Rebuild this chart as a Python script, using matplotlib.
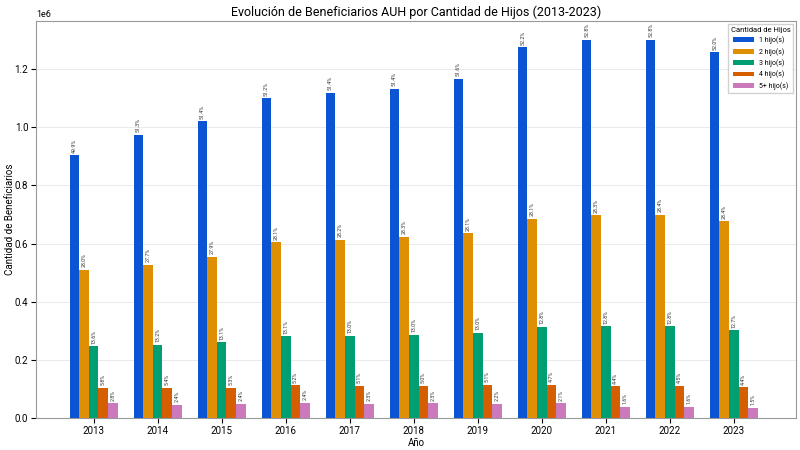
import numpy as np
import matplotlib
matplotlib.use('Agg')
from matplotlib import pyplot

pyplot.rcParams['font.family'] = ['Roboto', 'DejaVu Sans']

years = ['2013', '2014', '2015', '2016', '2017', '2018',
         '2019', '2020', '2021', '2022', '2023']
series_labels = ['1 hijo(s)', '2 hijo(s)', '3 hijo(s)', '4 hijo(s)', '5+ hijo(s)']

# beneficiaries per number of children (millions)
hijos_1 = [0.904, 0.975, 1.020, 1.100, 1.118, 1.133, 1.166, 1.275, 1.300, 1.300, 1.258]
hijos_2 = [0.509, 0.527, 0.554, 0.604, 0.614, 0.623, 0.635, 0.686, 0.697, 0.698, 0.677]
hijos_3 = [0.247, 0.251, 0.260, 0.281, 0.283, 0.287, 0.293, 0.313, 0.315, 0.315, 0.302]
hijos_4 = [0.105, 0.103, 0.105, 0.112, 0.111, 0.110, 0.114, 0.114, 0.109, 0.111, 0.106]
hijos_5 = [0.051, 0.046, 0.048, 0.052, 0.050, 0.051, 0.050, 0.051, 0.039, 0.039, 0.036]

pct_1 = ['49.9%', '51.3%', '51.4%', '51.2%', '51.4%', '51.4%', '51.6%', '52.2%', '52.8%', '52.8%', '52.0%']
pct_2 = ['28.0%', '27.7%', '27.9%', '28.1%', '28.2%', '28.3%', '28.1%', '28.1%', '28.3%', '28.4%', '28.4%']
pct_3 = ['13.6%', '13.2%', '13.1%', '13.1%', '13.0%', '13.0%', '13.0%', '12.8%', '12.8%', '12.8%', '12.7%']
pct_4 = ['5.8%', '5.4%', '5.3%', '5.2%', '5.1%', '5.0%', '5.1%', '4.7%', '4.4%', '4.5%', '4.4%']
pct_5 = ['2.8%', '2.4%', '2.4%', '2.4%', '2.3%', '2.3%', '2.2%', '2.1%', '1.6%', '1.6%', '1.5%']

values = [hijos_1, hijos_2, hijos_3, hijos_4, hijos_5]
percents = [pct_1, pct_2, pct_3, pct_4, pct_5]
colors = ['#0b55d4', '#de8f05', '#029e73', '#d55e00', '#cc78bc']

fig = pyplot.figure(figsize=(8, 4.5), dpi=100)
ax = fig.add_axes([0.045, 0.071, 0.95, 0.882])
ax.grid(True, axis='y', color='#e6e6e6', linewidth=0.6, zorder=0)
ax.set_axisbelow(True)

x = np.arange(len(years))
width = 0.15
for i, (vals, pcts, color, label) in enumerate(zip(values, percents, colors, series_labels)):
    pos = x + (i - 2) * width
    heights = np.array(vals) * 1e6
    ax.bar(pos, heights, width, color=color, label=label, zorder=3)
    for px, h, p in zip(pos, heights, pcts):
        ax.text(px, h + 9000, p, rotation=90, ha='center', va='bottom',
                fontsize=3.8, color='#333333')

ax.set_xticks(x)
ax.set_xticklabels(years, fontsize=7)
ax.tick_params(axis='x', pad=2)
ax.tick_params(axis='y', labelsize=7, pad=2)
ax.set_xlim(-0.9, 10.97)
ax.set_ylim(0, 1.365e6)
ax.yaxis.get_offset_text().set_fontsize(6.5)
for spine in ax.spines.values():
    spine.set_color('#999999')
    spine.set_linewidth(0.8)
ax.set_xlabel('Año', fontsize=7, labelpad=2)
ax.set_ylabel('Cantidad de Beneficiarios', fontsize=7, labelpad=0)
ax.set_title('Evolución de Beneficiarios AUH por Cantidad de Hijos (2013-2023)',
             fontsize=9, pad=4)
leg = ax.legend(title='Cantidad de Hijos', loc='upper right', fontsize=5,
                title_fontsize=5.5, framealpha=0.9, edgecolor='#cccccc',
                fancybox=False, handlelength=3.0, borderaxespad=0.4)

pyplot.savefig('out.png', dpi=100)
